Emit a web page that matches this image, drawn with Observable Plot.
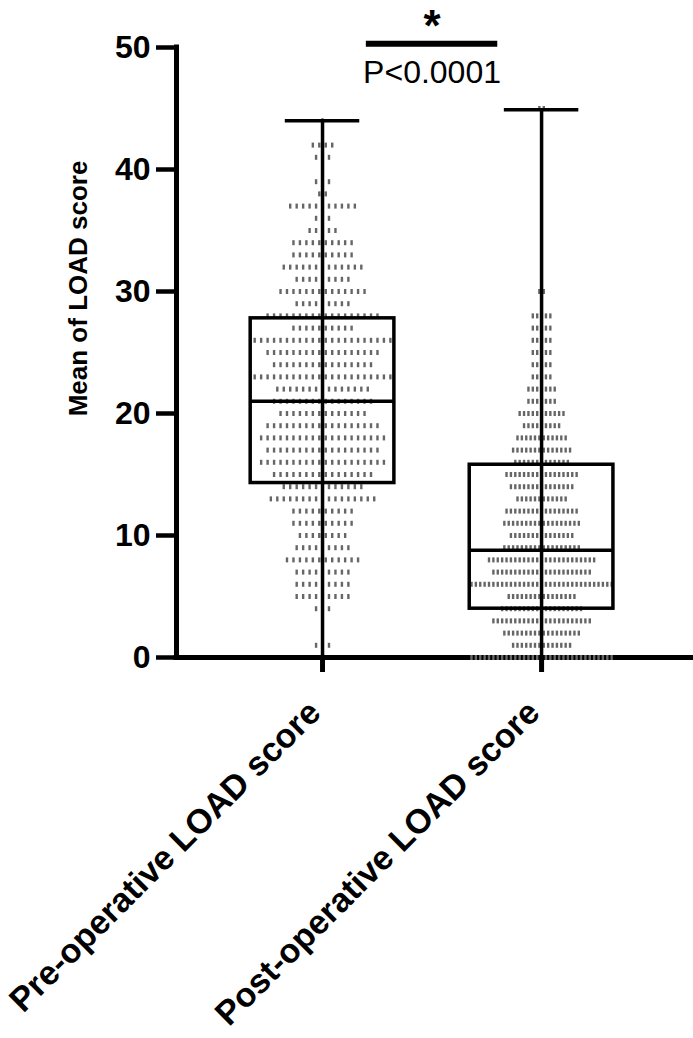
<!DOCTYPE html>
<html><head><meta charset="utf-8">
<script src="https://cdn.jsdelivr.net/npm/d3@7"></script>
<script src="https://cdn.jsdelivr.net/npm/@observablehq/plot@0.6"></script>
<style>body{margin:0;background:#fff}</style>
</head><body><div id="chart"></div>
<script>
// ---- data ----
const categories = ["Pre-operative LOAD score", "Post-operative LOAD score"];
const preScores = [44,42,41,40,39,38,37,36,35,34,33,32,31,30,29,28,27,26,25,24,23,22,21,20,19,18,17,16,15,14,13,12,11,10,9,8,7,6,5,4,3,2,1,0];
const preCounts = [1,4,3,1,3,2,11,3,5,10,10,13,9,14,9,18,10,22,18,16,22,15,16,14,18,20,18,20,16,13,17,10,10,8,9,12,9,9,9,3,1,1,3,1];
const postScores = [45,43,41,38,36,33,31,30,28,27,26,25,24,23,22,21,20,19,18,17,16,15,14,13,12,11,10,9,8,7,6,5,4,3,2,1,0];
const postCounts = [2,1,1,1,1,1,1,2,5,5,5,5,5,5,7,7,11,9,12,14,13,17,15,12,17,18,15,18,25,23,33,16,19,23,18,14,33];
const boxQ1 = [14.3, 4.0];
const boxMedian = [21, 8.8];
const boxQ3 = [27.8, 15.8];
const whiskerMin = [0, 0];
const whiskerMax = [44, 44.9];
const yTicks = [0, 10, 20, 30, 40, 50];
const yLabel = "Mean of LOAD score";
const pLabel = "P<0.0001";
const sigMark = "*";

// ---- build ----
const positions = [1, 2];
const steps = [0.0295, 0.0200];
function expand(scores, counts, pos, step) {
  const out = [];
  scores.forEach((v, i) => {
    const n = counts[i];
    for (let k = 0; k < n; k++) out.push({x: pos + (k - (n - 1) / 2) * step, y: v});
  });
  return out;
}
const dots = expand(preScores, preCounts, positions[0], steps[0])
  .concat(expand(postScores, postCounts, positions[1], steps[1]));
const boxes = categories.map((c, i) => ({
  x: positions[i], q1: boxQ1[i], med: boxMedian[i], q3: boxQ3[i], lo: whiskerMin[i], hi: whiskerMax[i]
}));
const bw = 0.328, cw = 0.17;
const xmin = 1/3, xmax = 2.689;
const font = "'Liberation Sans', Arial, Helvetica, sans-serif";
const dash = {draw(ctx) { ctx.rect(-1.2, -2.5, 2.4, 5); }};

const chart = Plot.plot({
  width: 693, height: 1038,
  marginLeft: 176, marginRight: 1, marginTop: 47, marginBottom: 381,
  style: {fontFamily: font, background: "#fff", color: "#000", overflow: "visible"},
  x: {domain: [xmin, xmax]},
  y: {domain: [0, 50]},
  marks: [
    Plot.ruleY([0], {stroke: "#000", strokeWidth: 5, strokeLinecap: "square"}),
    Plot.dot(dots, {x: "x", y: "y", symbol: dash, r: 2, fill: "#666", stroke: null}),
    Plot.ruleX(boxes, {x: "x", y1: "lo", y2: "hi", stroke: "#000", strokeWidth: 3.5}),
    Plot.rect(boxes, {x1: d => d.x - bw, x2: d => d.x + bw, y1: "q1", y2: "q3", fill: "none", stroke: "#000", strokeWidth: 3.5}),
    Plot.ruleY(boxes, {y: "med", x1: d => d.x - bw, x2: d => d.x + bw, stroke: "#000", strokeWidth: 3.5}),
    Plot.ruleY(boxes, {y: "hi", x1: d => d.x - cw, x2: d => d.x + cw, stroke: "#000", strokeWidth: 3.5}),
    Plot.ruleX([xmin], {stroke: "#000", strokeWidth: 5, strokeLinecap: "square"}),
    Plot.axisY(yTicks, {tickSize: 20, tickPadding: 6, fontSize: 32, fontWeight: "bold", strokeWidth: 4.5, label: null}),
    Plot.axisX(positions, {tickFormat: d => categories[d - 1], tickSize: 15, tickPadding: 42, tickRotate: -45,
      textAnchor: "end", lineAnchor: "bottom", fontSize: 34, fontWeight: "bold", strokeWidth: 5, label: null}),
    Plot.text([yLabel], {x: xmin, y: 30.25, dx: -98, rotate: -90, fontSize: 26, fontWeight: "bold", textAnchor: "middle", lineAnchor: "middle"}),
    Plot.ruleY([50.3], {x1: 1.2, x2: 1.8, stroke: "#000", strokeWidth: 6}),
    Plot.text([sigMark], {x: 1.5, y: 50.53, fontSize: 44, fontWeight: "bold", lineAnchor: "bottom"}),
    Plot.text([pLabel], {x: 1.5, y: 47.1, fontSize: 32, lineAnchor: "bottom"})
  ]
});
document.getElementById("chart").appendChild(chart);
</script>
</body></html>
